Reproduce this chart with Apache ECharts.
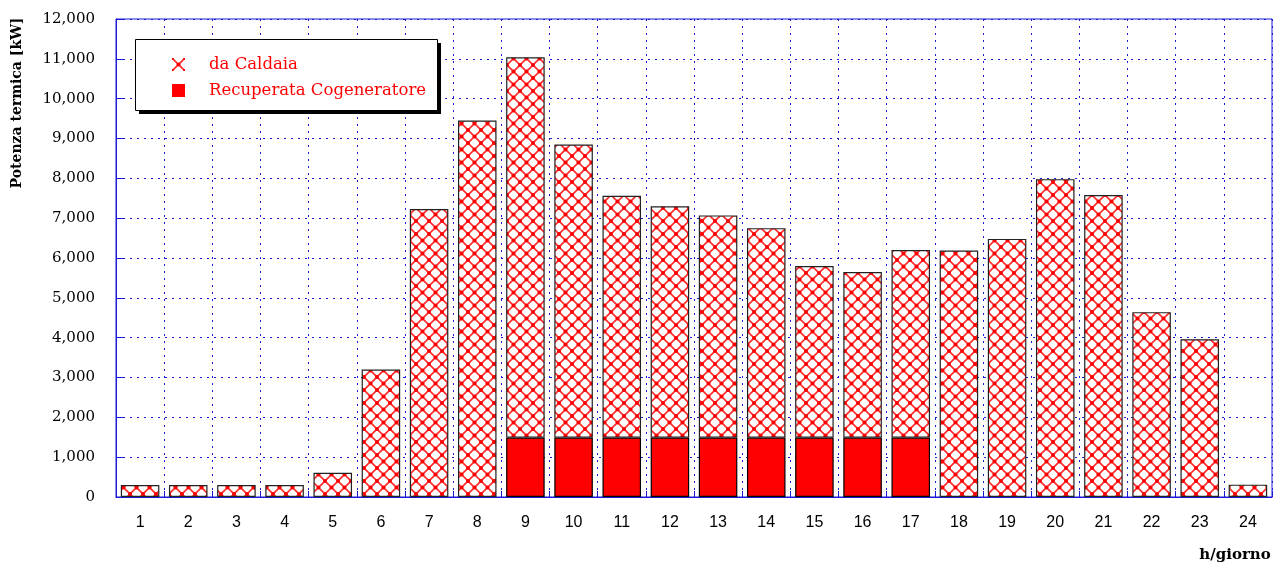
<!DOCTYPE html>
<html>
<head>
<meta charset="utf-8">
<script src="https://cdn.jsdelivr.net/npm/echarts@6/dist/echarts.min.js"></script>
<style>html,body{margin:0;padding:0;background:#fff}#c{width:1279px;height:567px}</style>
</head>
<body>
<div id="c"></div>
<script>
const hours = ['1','2','3','4','5','6','7','8','9','10','11','12','13','14','15','16','17','18','19','20','21','22','23','24'];
const recuperataCogeneratore = ['-','-','-','-','-','-','-','-',1490,1490,1490,1490,1490,1490,1490,1490,1490,'-','-','-','-','-','-','-'];
const daCaldaia = [300,300,300,300,610,3200,7230,9450,9550,7360,6070,5810,5580,5260,4310,4160,4710,6190,6480,7980,7580,4640,3960,310];
const yTicks = [0,1000,2000,3000,4000,5000,6000,7000,8000,9000,10000,11000,12000];

function makePattern(){
  const s = 13;
  const c = document.createElement('canvas');
  c.width = s; c.height = s;
  const g = c.getContext('2d');
  g.fillStyle = '#fff'; g.fillRect(0,0,s,s);
  g.strokeStyle = 'rgba(255,20,20,0.9)';
  g.lineWidth = 1.6;
  g.beginPath();
  g.moveTo(-1,-1); g.lineTo(s+1,s+1);
  g.moveTo(s+1,-1); g.lineTo(-1,s+1);
  g.stroke();
  g.fillStyle = '#ff0000';
  const pts = [[0,0],[s,0],[0,s],[s,s],[s/2,s/2]];
  pts.forEach(p=>{g.beginPath(); g.arc(p[0],p[1],2,0,Math.PI*2); g.fill();});
  return c;
}
const pat = {image: makePattern(), repeat: 'repeat'};

const chart = echarts.init(document.getElementById('c'), null, {renderer:'canvas'});
const blue = '#1a1ad6';
const serif = '"DejaVu Serif"';
chart.setOption({
  animation: false,
  backgroundColor: '#fff',
  grid: {left: 116, right: 7, top: 19, bottom: 70, show: true, borderColor: blue, borderWidth: 1},
  legend: {
    show: true,
    left: 153, top: 56,
    orient: 'vertical',
    data: ['da Caldaia','Recuperata Cogeneratore'],
    itemWidth: 13, itemHeight: 13,
    itemGap: 9,
    padding: [0, 0, 0, 19],
    itemStyle: {borderWidth: 0},
    textStyle: {color: '#ff0000', fontFamily: serif, fontSize: 16.5, lineHeight: 13, padding: [0,0,0,19]},
    icon: 'rect',
    z: 10
  },
  xAxis: {
    type: 'category',
    data: hours,
    axisLine: {lineStyle: {color: blue, width: 1}},
    axisTick: {show: true, inside: true, length: 6, lineStyle: {color: blue}},
    splitLine: {show: true, lineStyle: {color: blue, type: [2,5], width: 1}},
    axisLabel: {color: '#000', fontFamily: 'Liberation Sans', fontSize: 16, margin: 18}
  },
  yAxis: {
    type: 'value',
    min: yTicks[0], max: yTicks[yTicks.length-1], interval: 1000,
    axisLine: {show: true, lineStyle: {color: blue, width: 1}},
    axisTick: {show: true, inside: true, length: 8, lineStyle: {color: blue}},
    splitLine: {show: true, lineStyle: {color: blue, type: [2,5], width: 1}},
    axisLabel: {color: '#000', fontFamily: serif, fontSize: 15, margin: 21,
      formatter: v => v.toLocaleString('en-US')}
  },
  series: [
    {name: 'Recuperata Cogeneratore', type: 'bar', stack: 'tot', data: recuperataCogeneratore,
     barCategoryGap: '20%',
     itemStyle: {color: '#ff0000', borderColor: '#000', borderWidth: 1.2}},
    {name: 'da Caldaia', type: 'bar', stack: 'tot', data: daCaldaia,
     barCategoryGap: '20%',
     itemStyle: {color: pat, borderColor: '#222', borderWidth: 1.2}}
  ],
  graphic: [
    {type: 'rect', z: 5, shape: {x: 139, y: 43, width: 302, height: 71}, style: {fill: '#000'}},
    {type: 'rect', z: 6, shape: {x: 135.5, y: 39.5, width: 302, height: 71}, style: {fill: '#fff', stroke: '#000', lineWidth: 1}},
    {type: 'text', z: 10, x: 17, y: 103, rotation: Math.PI/2,
     style: {text: 'Potenza termica [kW]', fill: '#000', font: 'bold 14px "DejaVu Serif"', textAlign: 'center', textVerticalAlign: 'middle'}},
    {type: 'text', z: 10, x: 1235, y: 555,
     style: {text: 'h/giorno', fill: '#000', font: 'bold 15px "DejaVu Serif"', textAlign: 'center', textVerticalAlign: 'middle'}}
  ]
});
</script>
</body>
</html>
